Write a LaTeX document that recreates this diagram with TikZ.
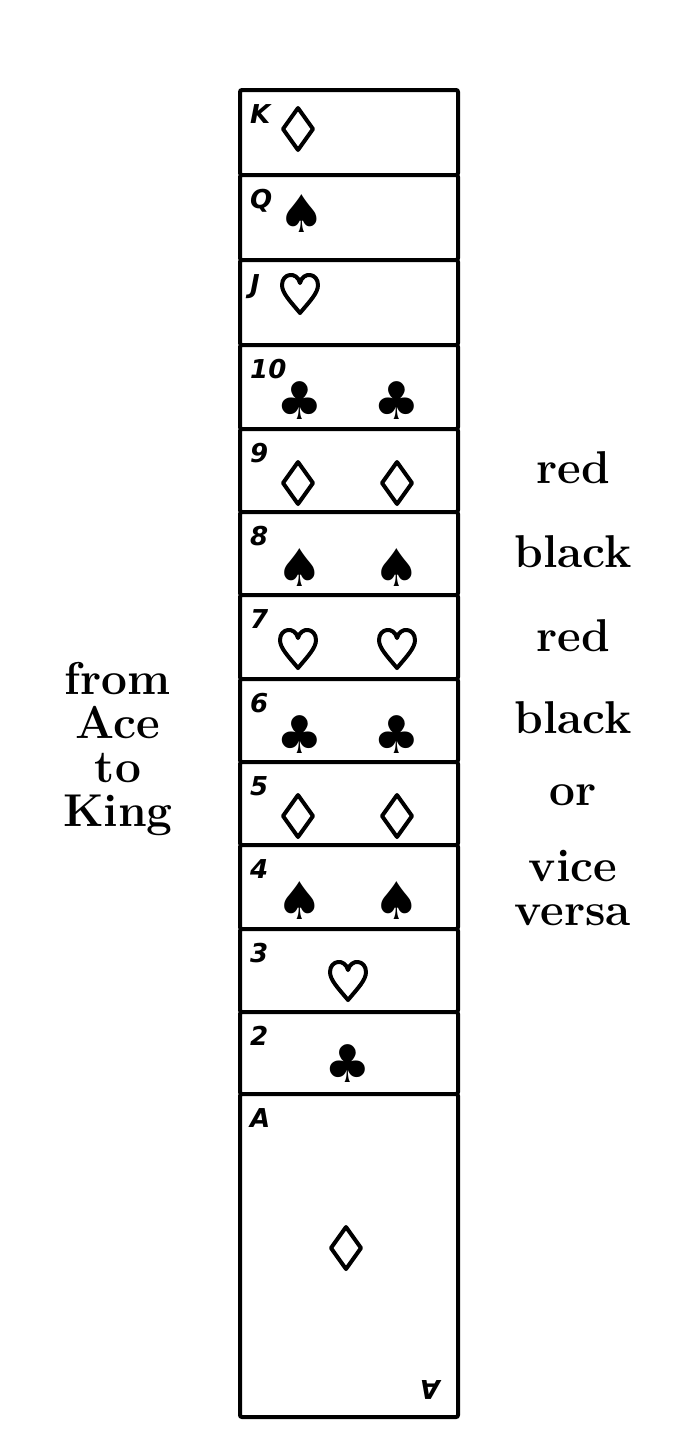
\documentclass[tikz,border=0pt]{standalone}
\usepackage{fontspec}
\newfontfamily\suitfont{DejaVu Sans}
\newfontfamily\rankfont{DejaVu Sans}
\usetikzlibrary{positioning}
\tikzstyle{card} = [draw, line width=4pt, rounded corners=2pt, fill=white]
\tikzstyle{rank} = [anchor=north west, inner sep=0pt, font=\rankfont\bfseries\itshape\fontsize{26}{26}\selectfont]
\tikzstyle{pip} = [inner sep=0pt, font=\suitfont\fontsize{52}{52}\selectfont]
\tikzstyle{word} = [align=center, font=\bfseries\fontsize{46}{44}\selectfont]
\tikzstyle{outline} = [draw, line width=4pt, line join=round]
% outline diamond and heart pips
\newcommand{\diapip}[2]{\draw[outline] (#1,#2-21) -- (#1+15,#2) -- (#1,#2+21) -- (#1-15,#2) -- cycle;}
\newcommand{\hrtpip}[2]{\draw[outline] (#1,#2+20) .. controls (#1-10,#2+8) and (#1-18,#2) .. (#1-18,#2-8)
    .. controls (#1-18,#2-20) and (#1-3,#2-22) .. (#1,#2-10)
    .. controls (#1+3,#2-22) and (#1+18,#2-20) .. (#1+18,#2-8)
    .. controls (#1+18,#2) and (#1+10,#2+8) .. cycle;}

\begin{document}
\begin{tikzpicture}[x=1pt, y=-1pt]
    \useasboundingbox (0,0) rectangle (694,1443);
    % Cards, top to bottom
    \foreach \r/\t/\b in {K/88/173, Q/173/258, J/258/343, 10/343/427, 9/427/510,
                          8/510/593, 7/593/677, 6/677/760, 5/760/843, 4/843/927,
                          3/927/1010, 2/1010/1092, A/1092/1415} {
        \node[card, minimum width=218pt, minimum height={\b-\t}, anchor=north west]
            (card\r) at (238,\t) {};
        \node[rank] (rank\r) at (250,\t+16) {\r};
    }
    % Face cards
    \diapip{298}{129}
    \node[pip] (pipQ) at (302,214) {\char"2660};
    \hrtpip{300}{293}
    % Number cards
    \foreach \t in {427,760} {\diapip{298}{\t+56} \diapip{397}{\t+56}}
    \foreach \t in {593} {\hrtpip{298}{\t+55} \hrtpip{397}{\t+55}}
    \foreach \r/\t/\s in {10/343/2663, 8/510/2660, 6/677/2663, 4/843/2660} {
        \node[pip] (pipL\r) at (300,\t+58) {\char"\s};
        \node[pip] (pipR\r) at (397,\t+58) {\char"\s};
    }
    \hrtpip{348}{980}
    \node[pip] (pip2) at (348,1064) {\char"2663};
    \diapip{346}{1248}
    \node[rank, rotate=180] (rankAb) at (440,1400) {A};
    % Labels
    \node[word] (order) at (118,749) {from\\Ace\\to\\King};
    \node[word] (red1) at (573,468) {red};
    \node[word] (black1) at (573,552) {black};
    \node[word] (red2) at (573,636) {red};
    \node[word] (black2) at (573,718) {black};
    \node[word] (or) at (573,795) {or};
    \node[word] (vice) at (573,888) {vice\\versa};
\end{tikzpicture}
\end{document}
